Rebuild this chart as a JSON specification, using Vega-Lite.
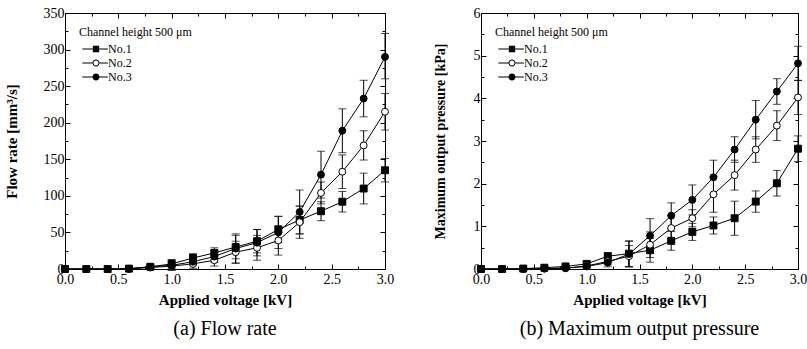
{
  "$schema": "https://vega.github.io/schema/vega-lite/v6.json",
  "background": "white",
  "padding": {"left": 3, "top": 5, "right": 0, "bottom": 0},
  "spacing": 37,
  "datasets": {
    "flow": [
      {"s": "No.1", "v": 0.0, "y": 0, "lo": 0, "hi": 0},
      {"s": "No.1", "v": 0.2, "y": 0, "lo": 0, "hi": 0},
      {"s": "No.1", "v": 0.4, "y": 0, "lo": 0, "hi": 0},
      {"s": "No.1", "v": 0.6, "y": 0.5, "lo": 0, "hi": 1},
      {"s": "No.1", "v": 0.8, "y": 3, "lo": 1, "hi": 5},
      {"s": "No.1", "v": 1.0, "y": 7, "lo": 1, "hi": 13},
      {"s": "No.1", "v": 1.2, "y": 15, "lo": 9, "hi": 21},
      {"s": "No.1", "v": 1.4, "y": 22, "lo": 15, "hi": 29},
      {"s": "No.1", "v": 1.6, "y": 30, "lo": 14, "hi": 46},
      {"s": "No.1", "v": 1.8, "y": 38, "lo": 22, "hi": 54},
      {"s": "No.1", "v": 2.0, "y": 54, "lo": 36, "hi": 72},
      {"s": "No.1", "v": 2.2, "y": 67, "lo": 48, "hi": 86},
      {"s": "No.1", "v": 2.4, "y": 79, "lo": 66, "hi": 92},
      {"s": "No.1", "v": 2.6, "y": 92, "lo": 78, "hi": 106},
      {"s": "No.1", "v": 2.8, "y": 110, "lo": 89, "hi": 131},
      {"s": "No.1", "v": 3.0, "y": 135, "lo": 119, "hi": 151},
      {"s": "No.2", "v": 0.0, "y": 0, "lo": 0, "hi": 0},
      {"s": "No.2", "v": 0.2, "y": 0, "lo": 0, "hi": 0},
      {"s": "No.2", "v": 0.4, "y": 0, "lo": 0, "hi": 0},
      {"s": "No.2", "v": 0.6, "y": 0.3, "lo": 0, "hi": 1},
      {"s": "No.2", "v": 0.8, "y": 2, "lo": 0, "hi": 4},
      {"s": "No.2", "v": 1.0, "y": 4, "lo": -1, "hi": 9},
      {"s": "No.2", "v": 1.2, "y": 7, "lo": 1, "hi": 13},
      {"s": "No.2", "v": 1.4, "y": 12, "lo": 4, "hi": 20},
      {"s": "No.2", "v": 1.6, "y": 23, "lo": 8, "hi": 38},
      {"s": "No.2", "v": 1.8, "y": 29, "lo": 12, "hi": 46},
      {"s": "No.2", "v": 2.0, "y": 39, "lo": 19, "hi": 59},
      {"s": "No.2", "v": 2.2, "y": 64, "lo": 42, "hi": 86},
      {"s": "No.2", "v": 2.4, "y": 104, "lo": 89, "hi": 119},
      {"s": "No.2", "v": 2.6, "y": 133, "lo": 110, "hi": 156},
      {"s": "No.2", "v": 2.8, "y": 169, "lo": 149, "hi": 189},
      {"s": "No.2", "v": 3.0, "y": 215, "lo": 190, "hi": 240},
      {"s": "No.3", "v": 0.0, "y": 0, "lo": 0, "hi": 0},
      {"s": "No.3", "v": 0.2, "y": 0, "lo": 0, "hi": 0},
      {"s": "No.3", "v": 0.4, "y": 0, "lo": 0, "hi": 0},
      {"s": "No.3", "v": 0.6, "y": 0.3, "lo": 0, "hi": 1},
      {"s": "No.3", "v": 0.8, "y": 3, "lo": 1, "hi": 5},
      {"s": "No.3", "v": 1.0, "y": 5, "lo": -2, "hi": 12},
      {"s": "No.3", "v": 1.2, "y": 10, "lo": 5, "hi": 15},
      {"s": "No.3", "v": 1.4, "y": 17, "lo": 9, "hi": 25},
      {"s": "No.3", "v": 1.6, "y": 28, "lo": 8, "hi": 48},
      {"s": "No.3", "v": 1.8, "y": 36, "lo": 18, "hi": 54},
      {"s": "No.3", "v": 2.0, "y": 50, "lo": 28, "hi": 72},
      {"s": "No.3", "v": 2.2, "y": 78, "lo": 48, "hi": 108},
      {"s": "No.3", "v": 2.4, "y": 129, "lo": 97, "hi": 161},
      {"s": "No.3", "v": 2.6, "y": 189, "lo": 159, "hi": 219},
      {"s": "No.3", "v": 2.8, "y": 233, "lo": 208, "hi": 258},
      {"s": "No.3", "v": 3.0, "y": 290, "lo": 260, "hi": 322}
    ],
    "pressure": [
      {"s": "No.1", "v": 0.0, "y": 0, "lo": 0, "hi": 0},
      {"s": "No.1", "v": 0.2, "y": 0, "lo": 0, "hi": 0},
      {"s": "No.1", "v": 0.4, "y": 0.01, "lo": 0, "hi": 0.02},
      {"s": "No.1", "v": 0.6, "y": 0.03, "lo": 0, "hi": 0.06},
      {"s": "No.1", "v": 0.8, "y": 0.06, "lo": 0.02, "hi": 0.1},
      {"s": "No.1", "v": 1.0, "y": 0.12, "lo": 0.07, "hi": 0.17},
      {"s": "No.1", "v": 1.2, "y": 0.3, "lo": 0.22, "hi": 0.38},
      {"s": "No.1", "v": 1.4, "y": 0.36, "lo": 0.06, "hi": 0.66},
      {"s": "No.1", "v": 1.6, "y": 0.44, "lo": 0.16, "hi": 0.72},
      {"s": "No.1", "v": 1.8, "y": 0.66, "lo": 0.44, "hi": 0.88},
      {"s": "No.1", "v": 2.0, "y": 0.87, "lo": 0.67, "hi": 1.07},
      {"s": "No.1", "v": 2.2, "y": 1.02, "lo": 0.82, "hi": 1.22},
      {"s": "No.1", "v": 2.4, "y": 1.19, "lo": 0.79, "hi": 1.59},
      {"s": "No.1", "v": 2.6, "y": 1.58, "lo": 1.33, "hi": 1.83},
      {"s": "No.1", "v": 2.8, "y": 2.01, "lo": 1.71, "hi": 2.31},
      {"s": "No.1", "v": 3.0, "y": 2.82, "lo": 2.52, "hi": 3.12},
      {"s": "No.2", "v": 0.0, "y": 0, "lo": 0, "hi": 0},
      {"s": "No.2", "v": 0.2, "y": 0, "lo": 0, "hi": 0},
      {"s": "No.2", "v": 0.4, "y": 0, "lo": 0, "hi": 0},
      {"s": "No.2", "v": 0.6, "y": 0.01, "lo": 0, "hi": 0.02},
      {"s": "No.2", "v": 0.8, "y": 0.02, "lo": 0, "hi": 0.05},
      {"s": "No.2", "v": 1.0, "y": 0.07, "lo": 0.03, "hi": 0.11},
      {"s": "No.2", "v": 1.2, "y": 0.18, "lo": 0.1, "hi": 0.26},
      {"s": "No.2", "v": 1.4, "y": 0.3, "lo": 0.05, "hi": 0.55},
      {"s": "No.2", "v": 1.6, "y": 0.57, "lo": 0.27, "hi": 0.87},
      {"s": "No.2", "v": 1.8, "y": 0.96, "lo": 0.66, "hi": 1.26},
      {"s": "No.2", "v": 2.0, "y": 1.19, "lo": 0.99, "hi": 1.39},
      {"s": "No.2", "v": 2.2, "y": 1.75, "lo": 1.33, "hi": 2.17},
      {"s": "No.2", "v": 2.4, "y": 2.2, "lo": 1.85, "hi": 2.55},
      {"s": "No.2", "v": 2.6, "y": 2.8, "lo": 2.5, "hi": 3.1},
      {"s": "No.2", "v": 2.8, "y": 3.36, "lo": 3.01, "hi": 3.71},
      {"s": "No.2", "v": 3.0, "y": 4.02, "lo": 3.62, "hi": 4.42},
      {"s": "No.3", "v": 0.0, "y": 0, "lo": 0, "hi": 0},
      {"s": "No.3", "v": 0.2, "y": 0, "lo": 0, "hi": 0},
      {"s": "No.3", "v": 0.4, "y": 0, "lo": 0, "hi": 0},
      {"s": "No.3", "v": 0.6, "y": 0.01, "lo": 0, "hi": 0.02},
      {"s": "No.3", "v": 0.8, "y": 0.02, "lo": 0, "hi": 0.05},
      {"s": "No.3", "v": 1.0, "y": 0.06, "lo": 0.02, "hi": 0.1},
      {"s": "No.3", "v": 1.2, "y": 0.15, "lo": 0.05, "hi": 0.25},
      {"s": "No.3", "v": 1.4, "y": 0.35, "lo": 0.05, "hi": 0.65},
      {"s": "No.3", "v": 1.6, "y": 0.78, "lo": 0.38, "hi": 1.18},
      {"s": "No.3", "v": 1.8, "y": 1.25, "lo": 0.95, "hi": 1.55},
      {"s": "No.3", "v": 2.0, "y": 1.62, "lo": 1.27, "hi": 1.97},
      {"s": "No.3", "v": 2.2, "y": 2.15, "lo": 1.75, "hi": 2.55},
      {"s": "No.3", "v": 2.4, "y": 2.8, "lo": 2.5, "hi": 3.1},
      {"s": "No.3", "v": 2.6, "y": 3.5, "lo": 3.05, "hi": 3.95},
      {"s": "No.3", "v": 2.8, "y": 4.16, "lo": 3.86, "hi": 4.46},
      {"s": "No.3", "v": 3.0, "y": 4.82, "lo": 4.42, "hi": 5.22}
    ]
  },
  "hconcat": [
    {
      "width": 320,
      "height": 256,
      "data": {"name": "flow"},
      "title": {"text": "(a) Flow rate", "orient": "bottom", "anchor": "middle", "font": "Liberation Serif", "fontSize": 20, "fontWeight": "normal", "color": "black", "offset": 12},
      "layer": [
        {
          "mark": {"type": "rule", "color": "black", "strokeWidth": 1},
          "encoding": {
            "x": {"field": "v", "type": "quantitative", "scale": {"domain": [0, 3], "nice": false, "zero": false},
                  "axis": {"orient": "bottom", "values": [0, 0.5, 1, 1.5, 2, 2.5, 3], "format": ".1f", "tickSize": -5, "labelPadding": 8, "labelFlush": false, "labelOverlap": false, "labelFont": "Liberation Serif", "labelFontSize": 14, "labelColor": "black", "title": "Applied voltage [kV]", "titleFont": "Liberation Serif", "titleFontSize": 15, "titleFontWeight": "bold", "titleColor": "black", "titlePadding": 6}},
            "y": {"field": "lo", "type": "quantitative", "scale": {"domain": [0, 350], "nice": false},
                  "axis": {"orient": "left", "values": [0, 50, 100, 150, 200, 250, 300, 350], "tickSize": -5, "labelPadding": 6, "labelOverlap": false, "labelFont": "Liberation Serif", "labelFontSize": 14, "labelColor": "black", "title": "Flow rate [mm³/s]", "titleFont": "Liberation Serif", "titleFontSize": 15, "titleFontWeight": "bold", "titleColor": "black", "titlePadding": 24}},
            "y2": {"field": "hi"}
          }
        },
        {
          "mark": {"type": "tick", "orient": "horizontal", "color": "black", "size": 8, "thickness": 1},
          "encoding": {
            "x": {"field": "v", "type": "quantitative", "axis": null},
            "y": {"field": "lo", "type": "quantitative", "axis": null}
          }
        },
        {
          "mark": {"type": "tick", "orient": "horizontal", "color": "black", "size": 8, "thickness": 1},
          "encoding": {
            "x": {"field": "v", "type": "quantitative", "axis": null},
            "y": {"field": "hi", "type": "quantitative", "axis": null}
          }
        },
        {
          "mark": {"type": "line", "color": "black", "strokeWidth": 1},
          "encoding": {
            "x": {"field": "v", "type": "quantitative", "axis": null},
            "y": {"field": "y", "type": "quantitative", "axis": null},
            "detail": {"field": "s", "type": "nominal"}
          }
        },
        {
          "mark": {"type": "point", "filled": true, "stroke": "black", "strokeWidth": 1, "size": 48, "opacity": 1},
          "encoding": {
            "x": {"field": "v", "type": "quantitative", "axis": null},
            "y": {"field": "y", "type": "quantitative", "axis": null},
            "shape": {"field": "s", "type": "nominal", "scale": {"domain": ["No.1", "No.2", "No.3"], "range": ["square", "circle", "circle"]}, "legend": null},
            "fill": {"field": "s", "type": "nominal", "scale": {"domain": ["No.1", "No.2", "No.3"], "range": ["black", "white", "black"]}, "legend": null}
          }
        },
        {
          "mark": {"type": "point", "filled": true, "color": "black", "opacity": 0},
          "encoding": {
            "x": {"field": "v", "type": "quantitative", "axis": {"orient": "top", "values": [0, 0.5, 1, 1.5, 2, 2.5, 3], "tickSize": -5, "labels": false, "title": null}},
            "y": {"field": "y", "type": "quantitative", "axis": {"orient": "right", "values": [0, 50, 100, 150, 200, 250, 300, 350], "tickSize": -5, "labels": false, "title": null}},
            "shape": {"field": "s", "type": "nominal",
                      "scale": {"domain": ["No.1", "No.2", "No.3"], "range": [
                        "M-3.9,-0.15H-0.9V0.15H-3.9ZM0.9,-0.15H3.4V0.15H0.9ZM-0.9,-0.9H0.9V0.9H-0.9Z",
                        "M-3.9,-0.15H-1V0.15H-3.9ZM1,-0.15H3.4V0.15H1ZM-1,0A1,1,0,1,1,1,0A1,1,0,1,1,-1,0ZM-0.72,0A0.72,0.72,0,1,0,0.72,0A0.72,0.72,0,1,0,-0.72,0Z",
                        "M-3.9,-0.15H-1V0.15H-3.9ZM1,-0.15H3.4V0.15H1ZM-1,0A1,1,0,1,1,1,0A1,1,0,1,1,-1,0Z"]},
                      "legend": {"title": "Channel height 500 μm", "orient": "none", "legendX": 14, "legendY": 14, "symbolSize": 49, "symbolFillColor": "black", "symbolStrokeWidth": 0, "symbolOpacity": 1, "symbolOffset": 11, "labelOffset": 6, "rowPadding": 2, "titlePadding": 4, "padding": 0, "labelFont": "Liberation Serif", "labelFontSize": 12, "labelColor": "black", "titleFont": "Liberation Serif", "titleFontSize": 12, "titleFontWeight": "normal", "titleColor": "black"}}
          }
        },
        {
          "mark": {"type": "point", "opacity": 0},
          "encoding": {
            "x": {"field": "v", "type": "quantitative", "axis": {"orient": "bottom", "values": [0.25, 0.75, 1.25, 1.75, 2.25, 2.75], "tickSize": -3, "labels": false, "title": null}},
            "y": {"field": "y", "type": "quantitative", "axis": {"orient": "left", "values": [25, 75, 125, 175, 225, 275, 325], "tickSize": -3, "labels": false, "title": null}}
          }
        },
        {
          "mark": {"type": "point", "opacity": 0},
          "encoding": {
            "x": {"field": "v", "type": "quantitative", "axis": {"orient": "top", "values": [0.25, 0.75, 1.25, 1.75, 2.25, 2.75], "tickSize": -3, "labels": false, "title": null}},
            "y": {"field": "y", "type": "quantitative", "axis": {"orient": "right", "values": [25, 75, 125, 175, 225, 275, 325], "tickSize": -3, "labels": false, "title": null}}
          }
        }
      ],
      "resolve": {"axis": {"x": "independent", "y": "independent"}, "scale": {"shape": "independent", "fill": "independent"}}
    },
    {
      "width": 317,
      "height": 256,
      "data": {"name": "pressure"},
      "title": {"text": "(b) Maximum output pressure", "orient": "bottom", "anchor": "middle", "font": "Liberation Serif", "fontSize": 20, "fontWeight": "normal", "color": "black", "offset": 12},
      "layer": [
        {
          "mark": {"type": "rule", "color": "black", "strokeWidth": 1},
          "encoding": {
            "x": {"field": "v", "type": "quantitative", "scale": {"domain": [0, 3], "nice": false, "zero": false},
                  "axis": {"orient": "bottom", "values": [0, 0.5, 1, 1.5, 2, 2.5, 3], "format": ".1f", "tickSize": -5, "labelPadding": 8, "labelFlush": false, "labelOverlap": false, "labelFont": "Liberation Serif", "labelFontSize": 14, "labelColor": "black", "title": "Applied voltage [kV]", "titleFont": "Liberation Serif", "titleFontSize": 15, "titleFontWeight": "bold", "titleColor": "black", "titlePadding": 6}},
            "y": {"field": "lo", "type": "quantitative", "scale": {"domain": [0, 6], "nice": false},
                  "axis": {"orient": "left", "values": [0, 1, 2, 3, 4, 5, 6], "tickSize": -5, "labelPadding": 6, "labelOverlap": false, "labelFont": "Liberation Serif", "labelFontSize": 14, "labelColor": "black", "title": "Maximum output pressure [kPa]", "titleFont": "Liberation Serif", "titleFontSize": 14, "titleFontWeight": "bold", "titleColor": "black", "titlePadding": 26}},
            "y2": {"field": "hi"}
          }
        },
        {
          "mark": {"type": "tick", "orient": "horizontal", "color": "black", "size": 8, "thickness": 1},
          "encoding": {
            "x": {"field": "v", "type": "quantitative", "axis": null},
            "y": {"field": "lo", "type": "quantitative", "axis": null}
          }
        },
        {
          "mark": {"type": "tick", "orient": "horizontal", "color": "black", "size": 8, "thickness": 1},
          "encoding": {
            "x": {"field": "v", "type": "quantitative", "axis": null},
            "y": {"field": "hi", "type": "quantitative", "axis": null}
          }
        },
        {
          "mark": {"type": "line", "color": "black", "strokeWidth": 1},
          "encoding": {
            "x": {"field": "v", "type": "quantitative", "axis": null},
            "y": {"field": "y", "type": "quantitative", "axis": null},
            "detail": {"field": "s", "type": "nominal"}
          }
        },
        {
          "mark": {"type": "point", "filled": true, "stroke": "black", "strokeWidth": 1, "size": 48, "opacity": 1},
          "encoding": {
            "x": {"field": "v", "type": "quantitative", "axis": null},
            "y": {"field": "y", "type": "quantitative", "axis": null},
            "shape": {"field": "s", "type": "nominal", "scale": {"domain": ["No.1", "No.2", "No.3"], "range": ["square", "circle", "circle"]}, "legend": null},
            "fill": {"field": "s", "type": "nominal", "scale": {"domain": ["No.1", "No.2", "No.3"], "range": ["black", "white", "black"]}, "legend": null}
          }
        },
        {
          "mark": {"type": "point", "filled": true, "color": "black", "opacity": 0},
          "encoding": {
            "x": {"field": "v", "type": "quantitative", "axis": {"orient": "top", "values": [0, 0.5, 1, 1.5, 2, 2.5, 3], "tickSize": -5, "labels": false, "title": null}},
            "y": {"field": "y", "type": "quantitative", "axis": {"orient": "right", "values": [0, 1, 2, 3, 4, 5, 6], "tickSize": -5, "labels": false, "title": null}},
            "shape": {"field": "s", "type": "nominal",
                      "scale": {"domain": ["No.1", "No.2", "No.3"], "range": [
                        "M-3.9,-0.15H-0.9V0.15H-3.9ZM0.9,-0.15H3.4V0.15H0.9ZM-0.9,-0.9H0.9V0.9H-0.9Z",
                        "M-3.9,-0.15H-1V0.15H-3.9ZM1,-0.15H3.4V0.15H1ZM-1,0A1,1,0,1,1,1,0A1,1,0,1,1,-1,0ZM-0.72,0A0.72,0.72,0,1,0,0.72,0A0.72,0.72,0,1,0,-0.72,0Z",
                        "M-3.9,-0.15H-1V0.15H-3.9ZM1,-0.15H3.4V0.15H1ZM-1,0A1,1,0,1,1,1,0A1,1,0,1,1,-1,0Z"]},
                      "legend": {"title": "Channel height 500 μm", "orient": "none", "legendX": 14, "legendY": 14, "symbolSize": 49, "symbolFillColor": "black", "symbolStrokeWidth": 0, "symbolOpacity": 1, "symbolOffset": 11, "labelOffset": 6, "rowPadding": 2, "titlePadding": 4, "padding": 0, "labelFont": "Liberation Serif", "labelFontSize": 12, "labelColor": "black", "titleFont": "Liberation Serif", "titleFontSize": 12, "titleFontWeight": "normal", "titleColor": "black"}}
          }
        },
        {
          "mark": {"type": "point", "opacity": 0},
          "encoding": {
            "x": {"field": "v", "type": "quantitative", "axis": {"orient": "bottom", "values": [0.25, 0.75, 1.25, 1.75, 2.25, 2.75], "tickSize": -3, "labels": false, "title": null}},
            "y": {"field": "y", "type": "quantitative", "axis": {"orient": "left", "values": [0.5, 1.5, 2.5, 3.5, 4.5, 5.5], "tickSize": -3, "labels": false, "title": null}}
          }
        },
        {
          "mark": {"type": "point", "opacity": 0},
          "encoding": {
            "x": {"field": "v", "type": "quantitative", "axis": {"orient": "top", "values": [0.25, 0.75, 1.25, 1.75, 2.25, 2.75], "tickSize": -3, "labels": false, "title": null}},
            "y": {"field": "y", "type": "quantitative", "axis": {"orient": "right", "values": [0.5, 1.5, 2.5, 3.5, 4.5, 5.5], "tickSize": -3, "labels": false, "title": null}}
          }
        }
      ],
      "resolve": {"axis": {"x": "independent", "y": "independent"}, "scale": {"shape": "independent", "fill": "independent"}}
    }
  ],
  "resolve": {"scale": {"x": "independent", "y": "independent", "shape": "independent", "fill": "independent"}, "legend": {"shape": "independent", "fill": "independent"}},
  "config": {
    "font": "Liberation Serif",
    "view": {"stroke": "black", "strokeWidth": 1},
    "style": {
      "guide-label": {"font": "Liberation Serif", "fontSize": 14, "fill": "black"},
      "guide-title": {"font": "Liberation Serif", "fontSize": 15, "fontWeight": "bold", "fill": "black"}
    },
    "axis": {"labelFont": "Liberation Serif", "labelFontSize": 14, "labelColor": "black", "tickColor": "black", "tickWidth": 1, "titleFont": "Liberation Serif", "titleFontSize": 15, "titleFontWeight": "bold", "titleColor": "black", "grid": false, "domain": false}
  }
}
